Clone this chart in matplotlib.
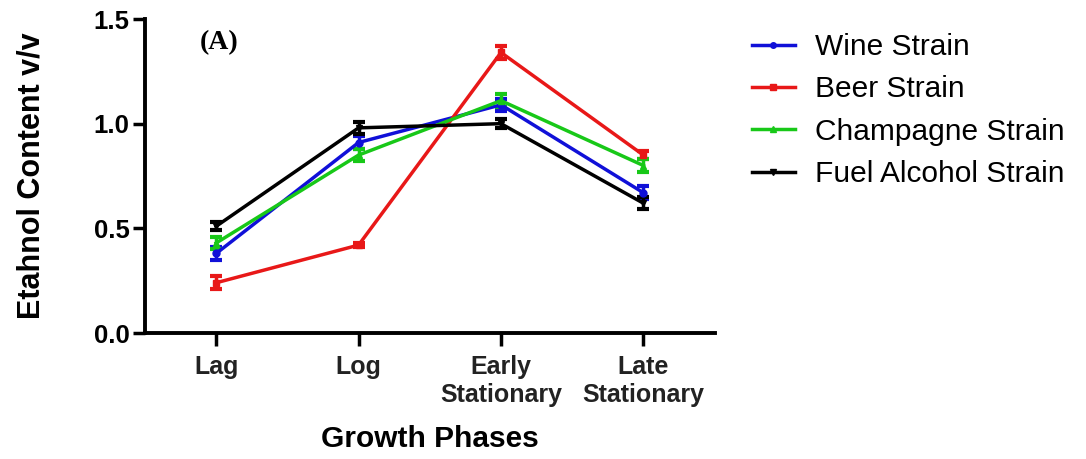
import matplotlib
matplotlib.use("Agg")
import matplotlib.pyplot as plt
from matplotlib.lines import Line2D
import numpy as np

categories = ["Lag", "Log", "Early\nStationary", "Late\nStationary"]
series_names = ["Wine Strain", "Beer Strain", "Champagne Strain", "Fuel Alcohol Strain"]
wine = [0.38, 0.91, 1.09, 0.67]
beer = [0.24, 0.42, 1.34, 0.85]
champagne = [0.43, 0.85, 1.11, 0.80]
fuel = [0.51, 0.98, 1.00, 0.62]
wine_err = [0.03, 0.03, 0.03, 0.03]
beer_err = [0.03, 0.01, 0.03, 0.02]
champagne_err = [0.03, 0.03, 0.03, 0.03]
fuel_err = [0.02, 0.03, 0.02, 0.03]
colors = ["#1010d8", "#e81818", "#18c818", "#000000"]
markers = ["o", "s", "^", "v"]

plt.rcParams['font.family'] = ['Liberation Sans', 'DejaVu Sans']
fig = plt.figure(figsize=(10.86, 4.59), dpi=100)
ax = fig.add_axes([0.1335, 0.2745, 0.5245, 0.6841])

x = np.arange(len(categories))
handles = []
for vals, errs, c, m, name in zip([wine, beer, champagne, fuel],
                                  [wine_err, beer_err, champagne_err, fuel_err],
                                  colors, markers, series_names):
    ax.errorbar(x, vals, yerr=errs, color=c, marker=m, markersize=5, lw=2.5,
                elinewidth=2.5, capsize=4, capthick=3)
    handles.append(Line2D([], [], color=c, marker=m, markersize=4, lw=2.5, label=name))

ax.set_xlim(-0.5, 3.5)
ax.set_ylim(0, 1.5)
ax.set_yticks([0.0, 0.5, 1.0, 1.5])
ax.set_yticklabels(["0.0", "0.5", "1.0", "1.5"])
ax.set_xticks(x)
ax.set_xticklabels(categories, fontsize=18, fontweight='bold', color='#222222')
for lab in ax.get_yticklabels():
    lab.set_fontsize(18.5)
    lab.set_fontweight('bold')
for s in ["top", "right"]:
    ax.spines[s].set_visible(False)
for s in ["left", "bottom"]:
    ax.spines[s].set_linewidth(2.8)
ax.tick_params(axis='both', direction='out', width=2.5, length=9)
ax.tick_params(axis='x', pad=7)
ax.tick_params(axis='y', pad=2)

ax.set_ylabel("Etahnol Content v/v", fontsize=22, fontweight='bold', labelpad=34)
ax.set_xlabel("Growth Phases", fontsize=21.5, fontweight='bold', labelpad=13)

ax.text(0.096, 0.965, "(A)", transform=ax.transAxes, fontsize=20, fontweight='bold',
        family=['Liberation Serif', 'DejaVu Serif'], va='top', ha='left')

leg = fig.legend(handles=handles, loc='upper left', bbox_to_anchor=(0.692, 0.928), frameon=False,
                 fontsize=21.5, handlelength=1.44, labelspacing=0.48, handletextpad=0.67,
                 borderaxespad=0, borderpad=0)

fig.savefig("out.png", dpi=100)
